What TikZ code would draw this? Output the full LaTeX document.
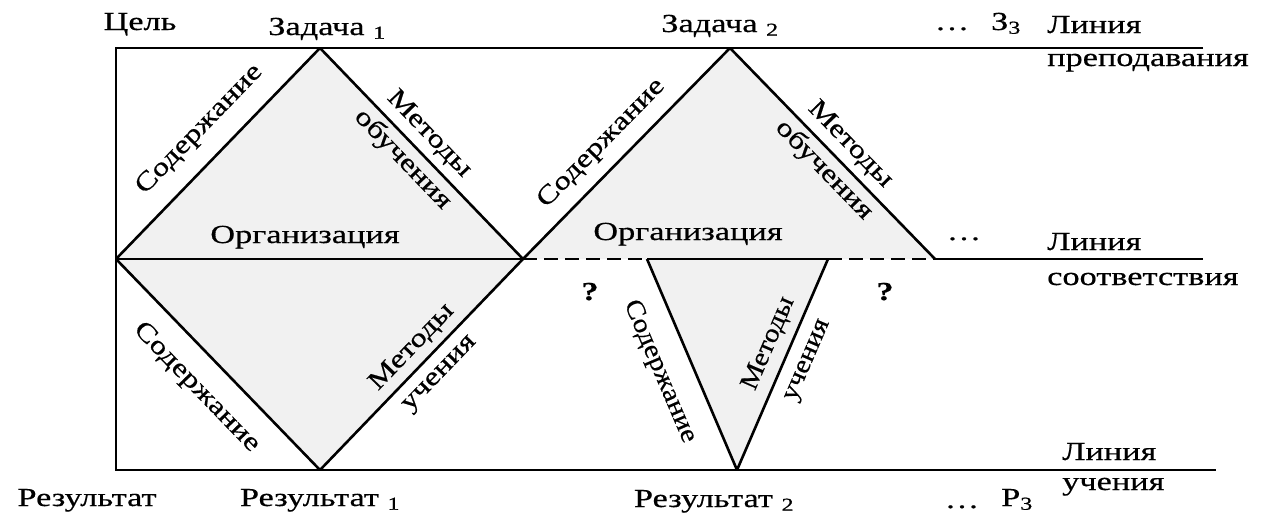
\documentclass[tikz,border=0pt]{standalone}
\usepackage{fontspec}
\setmainfont{Liberation Serif}[FakeStretch=1.32, FakeBold=0.5]
\newfontfamily\rotfont{Liberation Serif}[FakeStretch=1.25, FakeBold=0.5]
\newfontfamily\steepfont{Liberation Serif}[FakeStretch=1.12, FakeBold=0.5]
\definecolor{fillg}{HTML}{F1F1F1}
\begin{document}
\begin{tikzpicture}[x=1pt,y=-1pt,
  line/.style={line width=2.6pt, black},
  dashline/.style={line width=2.6pt, black, dash pattern=on 14pt off 7pt},
  lbl/.style={font=\fontsize{26}{31}\selectfont, inner sep=0pt, anchor=base},
  lblw/.style={font=\fontsize{26}{31}\selectfont, inner sep=0pt, anchor=base west},
  slbl/.style={font=\rotfont\fontsize{26}{31}\selectfont, inner sep=0pt, sloped},
  mlbl/.style={font=\rotfont\fontsize{26}{37}\selectfont, inner sep=0pt, sloped, align=center},
  stlbl/.style={font=\steepfont\fontsize{26}{31}\selectfont, inner sep=0pt, sloped},
  smlbl/.style={font=\steepfont\fontsize{26}{41}\selectfont, inner sep=0pt, sloped, align=center}]
\useasboundingbox (0,0) rectangle (1271,517);
% key points
\coordinate (TL) at (116,48);
\coordinate (TR) at (1203,48);
\coordinate (BL) at (116,470);
\coordinate (BR) at (1216,470);
\coordinate (L) at (116,259);
\coordinate (M) at (523,259);
\coordinate (A1) at (320,48);
\coordinate (B1) at (320,470);
\coordinate (A2) at (730,48);
\coordinate (R2) at (935,259);
\coordinate (I1) at (647,259);
\coordinate (I2) at (828,259);
\coordinate (B2) at (737,470);
\coordinate (MR) at (1203,259);
% fills
\fill[fillg] (L) -- (A1) -- (M) -- cycle;
\fill[fillg] (L) -- (B1) -- (M) -- cycle;
\fill[fillg] (M) -- (A2) -- (R2) -- cycle;
\fill[fillg] (I1) -- (B2) -- (I2) -- cycle;
% frame lines
\draw[line] (TR) -- (TL) -- (BL) -- (BR);
\draw[line] (L) -- (M);
\draw[dashline] (M) -- (I1);
\draw[line] (I1) -- (I2);
\draw[dashline] (I2) -- (R2);
\draw[line] (R2) -- (MR);
% triangle edges with labels
\draw[line] (L) -- node[slbl, pos=0.515, above=17pt] (c1) {Содержание} (A1);
\draw[line] (A1) -- node[mlbl, pos=0.47] (m1) {Методы\\обучения} (M);
\draw[line] (L) -- node[slbl, pos=0.505, below=19pt] (c2) {Содержание} (B1);
\draw[line] (B1) -- node[mlbl, pos=0.52] (m2) {Методы\\учения} (M);
\draw[line] (M) -- node[slbl, pos=0.465, above=12pt] (c3) {Содержание} (A2);
\draw[line] (A2) -- node[mlbl, pos=0.52] (m3) {Методы\\обучения} (R2);
\draw[line] (I1) -- node[stlbl, pos=0.473, below=20pt] (c4) {Содержание} (B2);
\draw[line] (B2) -- node[smlbl, pos=0.56] (m4) {Методы\\учения} (I2);
% texts
\node[lbl] (cel) at (140,30) {Цель};
\node[lbl] (z1) at (327,35) {Задача \textsubscript{1}};
\node[lbl] (z2) at (720,32) {Задача \textsubscript{2}};
\node[lbl] (dz) at (952,30) {…};
\node[lbl] (z3) at (1006,30) {З\textsubscript{3}};
\node[lblw] (lp1) at (1047,33) {Линия};
\node[lblw] (lp2) at (1047,66) {преподавания};
\node[lbl] (dm) at (964,240) {…};
\node[lblw] (ls1) at (1047,250) {Линия};
\node[lblw] (ls2) at (1047,285) {соответствия};
\node[lblw] (lu1) at (1062,460) {Линия};
\node[lblw] (lu2) at (1062,490) {учения};
\node[lbl] (dr) at (962,508) {…};
\node[lbl] (r3) at (1017,506) {Р\textsubscript{3}};
\node[lbl] (res) at (87,506) {Результат};
\node[lbl] (r1) at (320,506) {Результат \textsubscript{1}};
\node[lbl] (r2) at (714,507) {Результат \textsubscript{2}};
\node[lbl] (q1) at (590,300) {\bfseries ?};
\node[lbl] (q2) at (885,300) {\bfseries ?};
\node[lbl] (org1) at (305,243) {Организация};
\node[lbl] (org2) at (688,240) {Организация};
\end{tikzpicture}
\end{document}
